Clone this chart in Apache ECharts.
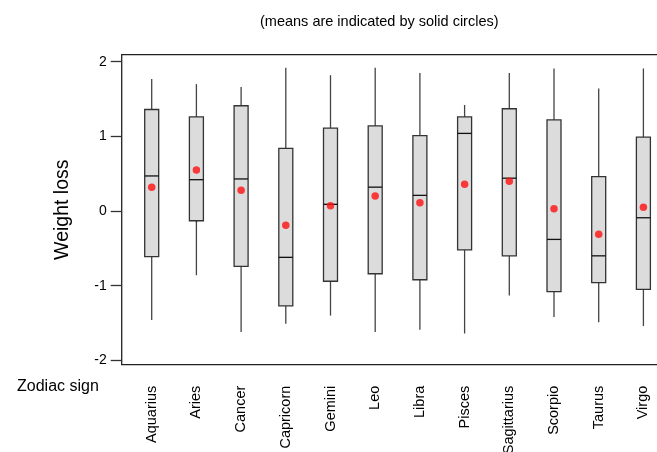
<!DOCTYPE html>
<html>
<head>
<meta charset="utf-8">
<script src="https://cdn.jsdelivr.net/npm/echarts@6/dist/echarts.min.js"></script>
<style>
html,body{margin:0;padding:0;background:#fff;}
#chart{width:657px;height:452px;}
</style>
</head>
<body>
<div id="chart"></div>
<script>
const categories = ['Aquarius','Aries','Cancer','Capricorn','Gemini','Leo','Libra','Pisces','Sagittarius','Scorpio','Taurus','Virgo'];
const whiskerLow  = [-1.46, -0.86, -1.62, -1.51, -1.40, -1.62, -1.59, -1.64, -1.13, -1.42, -1.49, -1.54];
const q1          = [-0.61, -0.13, -0.74, -1.27, -0.94, -0.84, -0.92, -0.52, -0.60, -1.08, -0.96, -1.05];
const median      = [ 0.47,  0.42,  0.43, -0.62,  0.09,  0.32,  0.21,  1.04,  0.44, -0.38, -0.60, -0.09];
const q3          = [ 1.36,  1.26,  1.41,  0.84,  1.11,  1.14,  1.01,  1.26,  1.37,  1.22,  0.46,  0.99];
const whiskerHigh = [ 1.77,  1.70,  1.66,  1.92,  1.82,  1.92,  1.85,  1.42,  1.85,  1.91,  1.64,  1.91];
const means       = [ 0.32,  0.55,  0.28, -0.19,  0.07,  0.20,  0.11,  0.36,  0.40,  0.03, -0.31,  0.05];
const yTicks = [-2, -1, 0, 1, 2];

const boxData = categories.map((c, i) => [i, whiskerLow[i], q1[i], median[i], q3[i], whiskerHigh[i]]);
const meanData = categories.map((c, i) => [i, means[i]]);

const yMin = -2.058, yMax = 2.094;
const FONT = '"Liberation Sans", Arial, sans-serif';

function renderBox(params, api) {
  const x = api.value(0);
  const pLow = api.coord([x, api.value(1)]);
  const pQ1 = api.coord([x, api.value(2)]);
  const pMed = api.coord([x, api.value(3)]);
  const pQ3 = api.coord([x, api.value(4)]);
  const pHigh = api.coord([x, api.value(5)]);
  const hw = 7;
  const wStyle = {stroke: '#444', lineWidth: 1.3};
  return {
    type: 'group',
    children: [
      {type: 'line', shape: {x1: pHigh[0], y1: pHigh[1], x2: pQ3[0], y2: pQ3[1]}, style: wStyle},
      {type: 'line', shape: {x1: pQ1[0], y1: pQ1[1], x2: pLow[0], y2: pLow[1]}, style: wStyle},
      {type: 'rect', shape: {x: pQ3[0] - hw, y: pQ3[1], width: 2 * hw, height: pQ1[1] - pQ3[1]},
        style: {fill: '#dcdcdc', stroke: '#333', lineWidth: 1.3}},
      {type: 'line', shape: {x1: pMed[0] - hw, y1: pMed[1], x2: pMed[0] + hw, y2: pMed[1]},
        style: {stroke: '#111', lineWidth: 1.3}}
    ]
  };
}

const chart = echarts.init(document.getElementById('chart'), null, {renderer: 'canvas'});
chart.setOption({
  animation: false,
  backgroundColor: '#fff',
  title: {
    text: '(means are indicated by solid circles)',
    left: 255, top: 9,
    textStyle: {fontFamily: FONT, fontSize: 14.5, fontWeight: 'normal', color: '#000'}
  },
  graphic: [{
    type: 'text', left: 17, top: 379,
    style: {text: 'Zodiac sign', font: '16px ' + FONT, fill: '#000'}
  }],
  grid: [
    {left: 121.7, top: 54.7, width: 551, height: 310, outerBoundsMode: 'none', containLabel: false,
      show: true, borderColor: '#222', borderWidth: 1.3, backgroundColor: 'transparent'},
    {left: 129.35, top: 54.7, width: 536.4, height: 310, outerBoundsMode: 'none', containLabel: false}
  ],
  xAxis: [
    {type: 'value', gridIndex: 0, show: false, min: 0, max: 1},
    {
      type: 'category', gridIndex: 1, data: categories, boundaryGap: true,
      axisLine: {show: false},
      axisTick: {show: true, alignWithLabel: true, length: 12, lineStyle: {color: '#555', width: 1.3}},
      axisLabel: {rotate: 90, margin: 21, interval: 0, fontFamily: FONT, fontSize: 14.5, color: '#000'},
      splitLine: {show: false}
    }
  ],
  yAxis: [
    {
      type: 'value', gridIndex: 0, min: yMin, max: yMax,
      name: 'Weight loss', nameLocation: 'middle', nameGap: 49,
      nameTextStyle: {fontFamily: FONT, fontSize: 19.5, color: '#000'},
      axisLine: {show: false},
      axisTick: {show: true, length: 11, customValues: yTicks, lineStyle: {color: '#333', width: 1.3}},
      axisLabel: {customValues: yTicks, margin: 15, fontFamily: FONT, fontSize: 14, color: '#000'},
      splitLine: {show: false}
    },
    {type: 'value', gridIndex: 1, min: yMin, max: yMax, show: false}
  ],
  series: [
    {
      type: 'custom', xAxisIndex: 1, yAxisIndex: 1,
      renderItem: renderBox,
      encode: {x: 0, y: [1, 2, 3, 4, 5]},
      data: boxData, z: 2
    },
    {
      type: 'scatter', xAxisIndex: 1, yAxisIndex: 1,
      symbol: 'circle', symbolSize: 7.5,
      itemStyle: {color: '#ff1010'},
      data: meanData, z: 3
    }
  ]
});
</script>
</body>
</html>
